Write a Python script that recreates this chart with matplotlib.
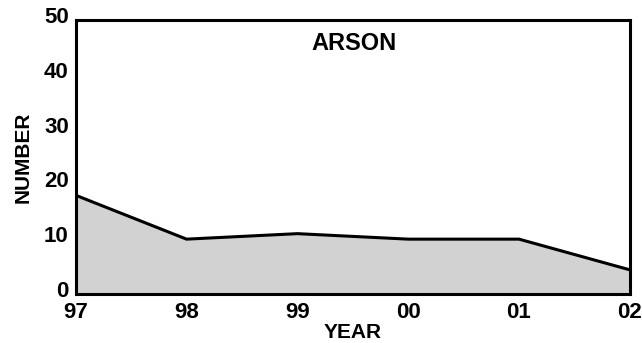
import matplotlib
matplotlib.use("Agg")
import matplotlib.pyplot as plt
import matplotlib.transforms as mtransforms

# arson counts by year
years = ["97", "98", "99", "00", "01", "02"]
counts = [18, 10, 11, 10, 10, 4.4]

plt.rcParams["font.family"] = ["Liberation Sans", "DejaVu Sans"]
plt.rcParams["font.weight"] = "bold"

fig = plt.figure(figsize=(6.42, 3.43), dpi=100)
ax = fig.add_axes([0.118, 0.143, 0.863, 0.799])

x = list(range(len(years)))
ax.fill_between(x, 0, counts, color="#d2d2d2", lw=0)
ax.plot(x, counts, color="black", lw=2.2, solid_joinstyle="miter")

ax.set_xlim(0, len(years) - 1)
ax.set_ylim(0, 50)
ax.set_xticks(x)
ax.set_xticklabels(years)
ax.set_yticks(range(0, 51, 10))
ax.tick_params(length=0, labelsize=16)
ax.tick_params(axis="x", pad=6)
ax.tick_params(axis="y", pad=5)
for s in ax.spines.values():
    s.set_linewidth(2.2)

# y labels sit a little above their gridline values
lift = mtransforms.ScaledTranslation(0, 0.05, fig.dpi_scale_trans)
for lbl in ax.get_yticklabels():
    lbl.set_fontweight("bold")
    lbl.set_transform(lbl.get_transform() + lift)
for lbl in ax.get_xticklabels():
    lbl.set_fontweight("bold")

ax.set_xlabel("YEAR", fontsize=15, fontweight="bold", labelpad=0)
ax.set_ylabel("NUMBER", fontsize=15, fontweight="bold", labelpad=8)
ax.text(0.502, 0.915, "ARSON", transform=ax.transAxes, ha="center", va="center",
        fontsize=17, fontweight="bold")

fig.savefig("out.png", dpi=100)
